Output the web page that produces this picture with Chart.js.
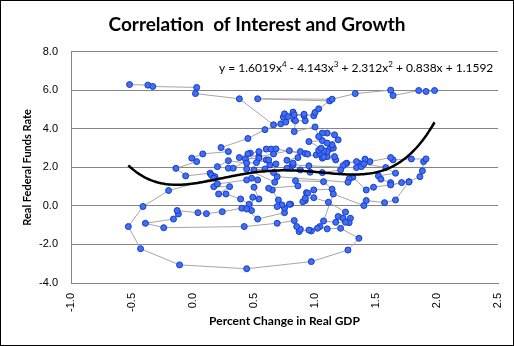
<!DOCTYPE html>
<html><head><meta charset="utf-8">
<script src="https://cdn.jsdelivr.net/npm/chart.js@4.4.1/dist/chart.umd.min.js"></script>
<style>html,body{margin:0;padding:0;background:#fff}#wrap{width:514px;height:346px;position:relative}</style>
</head><body><div id="wrap"><canvas id="c" width="514" height="346"></canvas></div>
<script>
const chartTitle = 'Correlation  of Interest and Growth';
const xAxisTitle = 'Percent Change in Real GDP';
const yAxisTitle = 'Real Federal Funds Rate';
const xTickValues = [-1.0, -0.5, 0.0, 0.5, 1.0, 1.5, 2.0, 2.5];
const yTickValues = [-4.0, -2.0, 0.0, 2.0, 4.0, 6.0, 8.0];
// trendline coefficients as printed on the chart (x^4, x^3, x^2, x, const)
const trendCoefficients = [1.6019, -4.143, 2.312, 0.838, 1.1592];
const trendLabel = ['y = 1.6019x', '4', ' - 4.143x', '3', ' + 2.312x', '2', ' + 0.838x + 1.1592'];

const gdpChange = [
-0.52,-0.37,-0.33,0.03,0.02,0.38,0.66,0.72,0.74,0.75,0.78,0.82,0.83,0.76,0.59,0.45,0.23,0.29,0.08,-0.01,
0.03,-0.14,-0.06,0.14,0.15,0.18,0.17,-0.20,-0.41,-0.53,-0.43,-0.11,0.44,0.97,1.27,1.36,1.21,1.10,1.04,1.02,
0.97,0.95,0.87,0.88,0.85,0.83,0.69,0.42,-0.24,-0.39,-0.16,-0.12,-0.13,0.04,0.11,0.24,0.40,0.46,0.39,0.27,
0.21,0.30,0.17,0.20,0.44,0.48,0.53,0.50,0.54,0.49,0.48,0.44,0.53,0.75,0.80,0.79,0.75,0.73,0.69,0.70,
0.65,0.62,0.86,0.84,1.07,1.14,0.99,0.93,0.94,0.92,0.90,0.92,0.99,1.11,1.25,1.19,1.23,1.29,1.28,1.25,
1.17,1.07,1.15,1.40,1.42,1.57,1.66,1.77,1.86,1.88,1.89,1.91,1.79,1.64,1.62,1.45,1.41,1.36,1.34,1.26,
1.25,1.23,1.21,1.06,0.96,0.88,0.81,0.82,0.95,1.34,1.38,1.40,1.58,1.66,1.52,1.54,1.62,1.62,1.71,1.77,
1.48,1.42,1.31,1.28,1.27,0.69,0.67,0.44,0.50,0.59,0.63,0.68,0.66,0.77,0.82,0.77,0.86,0.88,0.92,0.94,
0.79,0.66,0.54,0.54,0.47,0.45,0.38,0.43,0.54,0.60,0.62,0.52,0.44,0.29,0.20,0.29,0.33,0.60,0.64,0.68,
1.17,1.16,1.06,1.10,1.07,1.01,1.04,1.12,1.15,1.14,1.10,1.07,1.03,1.05,0.95,1.06,1.10,1.19,1.16,1.10,
1.06,1.03,1.00,0.83,0.84,0.92,0.91,0.83,0.91,0.99,1.00,1.03,1.12,0.53,1.14,1.33,1.62,1.64,1.85,1.91,1.98
];
const realFedFunds = [
6.30,6.27,6.20,6.15,5.83,5.56,4.21,4.26,4.61,4.78,4.64,4.87,4.47,4.35,3.96,3.50,3.03,2.82,2.70,2.48,
2.30,1.95,1.56,1.70,1.61,1.52,1.44,0.80,-0.03,-1.07,-2.22,-3.06,-3.26,-2.89,-2.29,-1.68,-1.16,-1.19,-1.07,-1.16,
-1.30,-1.25,-1.33,-1.21,-1.07,-0.76,-0.90,-1.07,-1.13,-0.90,-0.68,-0.42,-0.24,-0.35,-0.40,-0.30,-0.12,0.09,0.36,0.62,
0.62,1.00,1.00,1.14,1.35,1.44,1.35,0.97,0.36,0.45,-0.24,-0.16,-0.68,-0.35,0.09,0.09,-0.12,0.05,-0.03,0.31,
0.83,0.92,1.04,1.31,1.26,0.87,0.83,0.69,0.66,0.28,0.22,0.40,0.43,0.19,-0.32,-0.55,-0.64,-0.64,-0.87,-0.85,
-0.85,-0.78,0.62,0.02,0.28,0.17,0.31,1.26,1.52,1.82,2.30,2.44,2.44,2.39,2.51,2.30,2.43,2.22,2.30,2.22,
2.18,2.09,1.87,1.73,1.75,1.87,2.08,2.13,2.08,1.99,2.04,2.18,1.99,1.70,1.56,1.39,1.21,1.09,1.21,1.24,
0.97,0.83,1.49,1.40,1.23,1.52,1.23,1.92,1.87,1.92,2.13,2.18,1.73,1.96,2.22,2.37,2.51,2.82,2.72,2.69,
2.87,2.70,2.56,2.82,2.74,2.70,2.51,2.43,2.48,2.39,2.39,2.25,2.22,2.35,2.04,1.96,1.96,2.95,2.95,2.96,
2.39,2.56,2.48,2.56,2.53,2.65,2.74,2.95,3.00,3.17,2.82,2.87,2.89,3.00,3.34,3.39,3.26,3.43,3.69,3.78,
3.78,3.60,4.10,3.86,4.42,4.42,4.68,4.73,4.76,4.68,4.85,5.04,5.45,5.56,5.54,5.83,6.01,5.73,5.99,5.94,5.99
];

const scatterPoints = gdpChange.map((x, i) => ({x: x, y: realFedFunds[i]}));

// polynomial trendline from the printed coefficients, over the data's x range
const polyAt = x => trendCoefficients.reduce((acc, c) => acc * x + c, 0);
const xMinData = Math.min(...gdpChange), xMaxData = Math.max(...gdpChange);
const trendPoints = [];
for (let i = 0; i <= 150; i++) {
  const x = xMinData + (xMaxData - xMinData) * i / 150;
  trendPoints.push({x: x, y: polyAt(x)});
}

const frameAndLabel = {
  id: 'frameAndLabel',
  beforeDraw(chart) {
    const ctx = chart.ctx;
    ctx.save();
    ctx.fillStyle = '#fff';
    ctx.fillRect(0, 0, chart.width, chart.height);
    ctx.restore();
  },
  afterDatasetsDraw(chart) {
    const ctx = chart.ctx;
    ctx.save();
    ctx.fillStyle = '#000';
    ctx.textBaseline = 'alphabetic';
    let x = 219;
    const base = 72;
    trendLabel.forEach((seg, i) => {
      const sup = i % 2 === 1;
      ctx.font = sup ? '8px Lato' : '12px Lato';
      ctx.fillText(seg, x, sup ? base - 5 : base);
      x += ctx.measureText(seg).width;
    });
    ctx.restore();
  },
  afterDraw(chart) {
    const ctx = chart.ctx;
    ctx.save();
    ctx.strokeStyle = '#000';
    ctx.lineWidth = 1;
    ctx.strokeRect(0.5, 0.5, chart.width - 1, chart.height - 1);
    ctx.restore();
  }
};

new Chart(document.getElementById('c'), {
  type: 'scatter',
  data: {
    datasets: [
      {
        label: 'Poly. trend',
        data: trendPoints,
        showLine: true,
        borderColor: '#000',
        borderWidth: 2.5,
        pointRadius: 0,
        tension: 0,
        order: 0
      },
      {
        label: 'Real Federal Funds Rate',
        data: scatterPoints,
        showLine: true,
        borderColor: '#a6a6a6',
        borderWidth: 1,
        pointRadius: 3,
        pointBackgroundColor: '#3f6ff2',
        pointBorderColor: '#1b3cc8',
        pointBorderWidth: 1,
        tension: 0,
        order: 1
      }
    ]
  },
  options: {
    responsive: false,
    animation: false,
    devicePixelRatio: 1,
    layout: {padding: {left: 0, right: 0, top: 0, bottom: 0}},
    plugins: {
      legend: {display: false},
      tooltip: {enabled: false},
      title: {
        display: true,
        text: chartTitle,
        color: '#000',
        font: {family: 'Lato', weight: 'bold', size: 19},
        padding: {top: 13, bottom: 16}
      }
    },
    scales: {
      x: {
        type: 'linear',
        min: xTickValues[0],
        max: xTickValues[xTickValues.length - 1],
        afterBuildTicks(s) { s.ticks = xTickValues.map(v => ({value: v})); },
        ticks: {
          callback: v => Number(v).toFixed(1),
          maxRotation: 90, minRotation: 90,
          padding: 10,
          color: '#000',
          font: {family: 'Liberation Sans', size: 11}
        },
        grid: {display: false, drawTicks: false},
        border: {display: true, color: '#868686', width: 1},
        title: {
          display: true, text: xAxisTitle, color: '#000',
          font: {family: 'Lato', weight: 'bold', size: 12},
          padding: {top: 0, bottom: 18}
        },
        afterFit(s) { s.height = 63; s.paddingLeft = 0; s.paddingRight = 16; }
      },
      y: {
        min: yTickValues[0],
        max: yTickValues[yTickValues.length - 1],
        afterBuildTicks(s) { s.ticks = yTickValues.map(v => ({value: v})); },
        ticks: {
          callback: v => Number(v).toFixed(1),
          padding: 13,
          color: '#000',
          font: {family: 'Liberation Sans', size: 11}
        },
        grid: {color: '#868686', drawTicks: false, lineWidth: 1},
        border: {display: true, color: '#868686', width: 1},
        title: {
          display: true, text: yAxisTitle, color: '#000',
          font: {family: 'Lato', weight: 'bold', size: 11},
          padding: {top: 21, bottom: 0}
        },
        afterFit(s) { s.width = 71; s.paddingTop = 0; s.paddingBottom = 0; }
      }
    }
  },
  plugins: [frameAndLabel]
});
</script>
</body></html>
